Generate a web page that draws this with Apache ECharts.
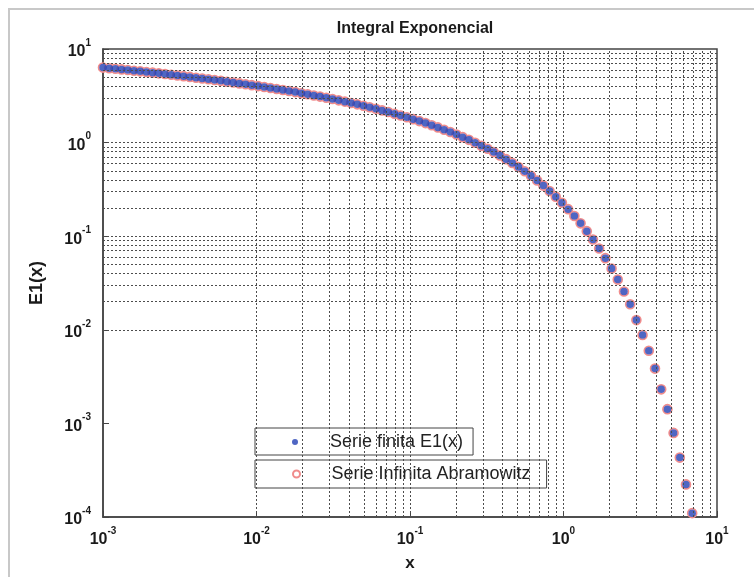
<!DOCTYPE html>
<html>
<head>
<meta charset="utf-8">
<script src="https://cdn.jsdelivr.net/npm/echarts@6/dist/echarts.min.js"></script>
<style>
  html, body { margin: 0; padding: 0; background: #fff; }
  #chart { width: 754px; height: 577px; }
</style>
</head>
<body>
<div id="chart"></div>
<script>
// Sample points (log-spaced x) and the two evaluations of E1(x)
const xValues = [
  0.001, 0.001098, 0.001205, 0.001322, 0.001451, 0.001592, 0.001748, 0.001918, 0.002105, 0.002310,
  0.002535, 0.002783, 0.003054, 0.003351, 0.003678, 0.004036, 0.004430, 0.004862, 0.005335, 0.005855,
  0.006426, 0.007053, 0.007740, 0.008494, 0.009322, 0.01024, 0.01123, 0.01233, 0.01353, 0.01485,
  0.01630, 0.01789, 0.01963, 0.02154, 0.02364, 0.02595, 0.02848, 0.03126, 0.03431, 0.03765,
  0.04132, 0.04535, 0.04977, 0.05462, 0.05995, 0.06579, 0.07221, 0.07925, 0.08697, 0.09545,
  0.1048, 0.1150, 0.1262, 0.1385, 0.1520, 0.1668, 0.1831, 0.2009, 0.2205, 0.2420,
  0.2656, 0.2915, 0.3199, 0.3511, 0.3854, 0.4229, 0.4642, 0.5094, 0.5591, 0.6136,
  0.6734, 0.7391, 0.8111, 0.8902, 0.9770, 1.072, 1.177, 1.292, 1.418, 1.556,
  1.707, 1.874, 2.057, 2.257, 2.477, 2.719, 2.984, 3.275, 3.594, 3.945,
  4.329, 4.751, 5.214, 5.723, 6.281, 6.893
];

const finiteSeriesE1 = [
  6.332, 6.239, 6.146, 6.053, 5.960, 5.867, 5.774, 5.681, 5.588, 5.496,
  5.403, 5.310, 5.217, 5.125, 5.032, 4.939, 4.846, 4.754, 4.661, 4.569,
  4.476, 4.384, 4.292, 4.199, 4.107, 4.015, 3.923, 3.831, 3.739, 3.647,
  3.556, 3.464, 3.373, 3.282, 3.191, 3.100, 3.010, 2.919, 2.829, 2.740,
  2.650, 2.561, 2.472, 2.384, 2.296, 2.209, 2.122, 2.036, 1.950, 1.865,
  1.781, 1.698, 1.615, 1.534, 1.453, 1.374, 1.296, 1.219, 1.144, 1.070,
  0.9974, 0.9270, 0.8585, 0.7919, 0.7275, 0.6654, 0.6057, 0.5485, 0.4940, 0.4421,
  0.3930, 0.3473, 0.3044, 0.2647, 0.2280, 0.1946, 0.1644, 0.1372, 0.1132, 0.0921,
  0.0739, 0.0583, 0.0452, 0.0344, 0.0257, 0.01873, 0.0127, 0.00881, 0.00597, 0.00385,
  0.00231, 0.00142, 0.000792, 0.000431, 0.000223, 0.000110
];

const abramowitzE1 = [
  6.332, 6.239, 6.146, 6.053, 5.960, 5.867, 5.774, 5.681, 5.588, 5.496,
  5.403, 5.310, 5.217, 5.125, 5.032, 4.939, 4.846, 4.754, 4.661, 4.569,
  4.476, 4.384, 4.292, 4.199, 4.107, 4.015, 3.923, 3.831, 3.739, 3.647,
  3.556, 3.464, 3.373, 3.282, 3.191, 3.100, 3.010, 2.919, 2.829, 2.740,
  2.650, 2.561, 2.472, 2.384, 2.296, 2.209, 2.122, 2.036, 1.950, 1.865,
  1.781, 1.698, 1.615, 1.534, 1.453, 1.374, 1.296, 1.219, 1.144, 1.070,
  0.9974, 0.9270, 0.8585, 0.7919, 0.7275, 0.6654, 0.6057, 0.5485, 0.4940, 0.4421,
  0.3930, 0.3473, 0.3044, 0.2647, 0.2280, 0.1946, 0.1644, 0.1372, 0.1132, 0.0921,
  0.0739, 0.0583, 0.0452, 0.0344, 0.0257, 0.01873, 0.0127, 0.00881, 0.00597, 0.00385,
  0.00231, 0.00142, 0.000792, 0.000431, 0.000223, 0.000110
];

const seriesNames = ['Serie finita E1(x)', 'Serie Infinita Abramowitz'];
const titleText = 'Integral Exponencial';
const xName = 'x';
const yName = 'E1(x)';
const xRange = [0.001, 10];
const yRange = [0.0001, 10];

const FONT = "'Liberation Sans', Arial, sans-serif";

function pairs(xs, ys) {
  return xs.map((x, i) => [x, ys[i]]);
}

// Grid lines at 1..9 × 10^k inside the axis range (the frame covers the ends)
function gridLines(range, key) {
  const out = [];
  const lo = Math.round(Math.log10(range[0]));
  const hi = Math.round(Math.log10(range[1]));
  for (let d = lo; d < hi; d++) {
    for (let m = 1; m <= 9; m++) {
      if (m === 1 && d === lo) continue;
      const o = {};
      o[key] = m * Math.pow(10, d);
      out.push(o);
    }
  }
  return out;
}

function powLabel(v) {
  const e = Math.round(Math.log10(v));
  return '{b|10}{e|' + e + '}';
}

const labelRich = {
  b: { fontFamily: FONT, fontSize: 16, fontWeight: 'bold', color: '#1a1a1a', lineHeight: 22, verticalAlign: 'bottom' },
  e: { fontFamily: FONT, fontSize: 10, fontWeight: 'bold', color: '#1a1a1a', lineHeight: 13, verticalAlign: 'top' }
};

const gridLine = { type: [2, 2], color: '#4d4d4d', width: 1 };

const legendText = { fontFamily: FONT, fontSize: 18, color: '#222' };

const chart = echarts.init(document.getElementById('chart'), null, { renderer: 'canvas' });

chart.setOption({
  animation: false,
  backgroundColor: '#ffffff',
  title: {
    text: titleText,
    left: 410,
    top: 16,
    textAlign: 'center',
    textStyle: { fontFamily: FONT, fontSize: 16, fontWeight: 'bold', color: '#1a1a1a' }
  },
  graphic: [{
    type: 'rect',
    shape: { x: 9, y: 9, width: 800, height: 620 },
    style: { fill: 'none', stroke: '#c8c8c8', lineWidth: 2 },
    silent: true,
    z: -10
  }],
  grid: {
    left: 103, right: 37, top: 49, bottom: 55,
    show: true,
    borderColor: '#444',
    borderWidth: 1.5,
    backgroundColor: 'transparent'
  },
  legend: [
    {
      data: [seriesNames[0]],
      left: 255, top: 428,
      orient: 'vertical',
      padding: [5, 10, 4, 37],
      itemWidth: 60, itemHeight: 6,
      borderColor: '#444', borderWidth: 1,
      textStyle: legendText
    },
    {
      data: [seriesNames[1]],
      left: 255, top: 460,
      orient: 'vertical',
      padding: [5, 16, 5, 37],
      itemWidth: 60, itemHeight: 7,
      borderColor: '#444', borderWidth: 1,
      textStyle: legendText
    }
  ],
  xAxis: {
    type: 'log',
    logBase: 10,
    min: xRange[0], max: xRange[1],
    name: xName,
    nameLocation: 'middle',
    nameGap: 38,
    nameTextStyle: { fontFamily: FONT, fontSize: 17, fontWeight: 'bold', color: '#1a1a1a' },
    axisLine: { show: true, lineStyle: { color: '#444', width: 1.5 } },
    axisTick: { show: true, inside: true, length: 6, lineStyle: { color: '#444' } },
    axisLabel: { margin: 9, formatter: powLabel, rich: labelRich },
    splitLine: { show: false }
  },
  yAxis: {
    type: 'log',
    logBase: 10,
    min: yRange[0], max: yRange[1],
    name: yName,
    nameLocation: 'middle',
    nameGap: 57,
    nameRotate: 90,
    nameTextStyle: { fontFamily: FONT, fontSize: 18, fontWeight: 'bold', color: '#1a1a1a' },
    axisLine: { show: true, lineStyle: { color: '#444', width: 1.5 } },
    axisTick: { show: true, inside: true, length: 6, lineStyle: { color: '#444' } },
    axisLabel: { margin: 12, formatter: powLabel, rich: labelRich },
    splitLine: { show: false }
  },
  series: [
    {
      name: 'grid-lines',
      type: 'line',
      data: [],
      silent: true,
      z: 1,
      markLine: {
        silent: true,
        animation: false,
        symbol: ['none', 'none'],
        label: { show: false },
        lineStyle: gridLine,
        emphasis: { disabled: true },
        data: gridLines(xRange, 'xAxis').concat(gridLines(yRange, 'yAxis'))
      }
    },
    {
      name: seriesNames[1],
      type: 'scatter',
      data: pairs(xValues, abramowitzE1),
      symbol: 'circle',
      symbolSize: 9,
      z: 3,
      itemStyle: { color: '#ffffff', borderColor: '#f08c8c', borderWidth: 1.6, opacity: 1 }
    },
    {
      name: seriesNames[0],
      type: 'scatter',
      data: pairs(xValues, finiteSeriesE1),
      symbol: 'circle',
      symbolSize: 7.5,
      z: 4,
      itemStyle: { color: '#2340b4' }
    }
  ]
});
</script>
</body>
</html>
